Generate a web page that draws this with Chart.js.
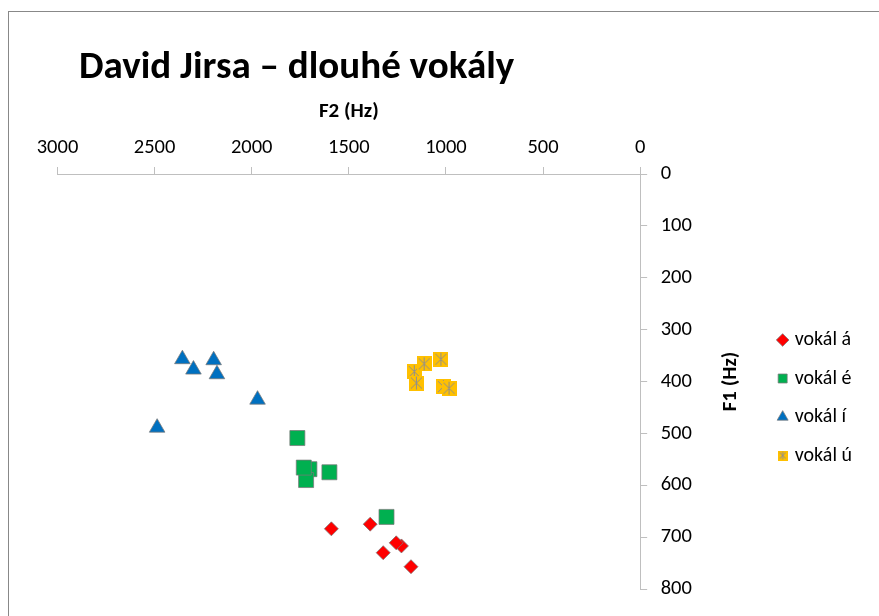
<!DOCTYPE html>
<html>
<head>
<meta charset="utf-8">
<title>David Jirsa – dlouhé vokály</title>
<script src="https://cdn.jsdelivr.net/npm/chart.js@4.4.1/dist/chart.umd.min.js"></script>
<style>
    html, body { margin: 0; padding: 0; overflow: hidden; background: #fff; }
    .frame { position: absolute; left: 8px; top: 11px; width: 950px; height: 700px; border: 1px solid #888; }
    .wrap { position: absolute; left: 0; top: 0; width: 879px; height: 616px; }
</style>
</head>
<body>
<div class="frame"></div>
<div class="wrap"><canvas id="vokaly" width="879" height="616"></canvas></div>
<script>
// hodnoty (F2 = osa x, F1 = osa y)
const chartTitle = 'David Jirsa – dlouhé vokály'
const f2Label = 'F2 (Hz)'
const f1Label = 'F1 (Hz)'
const seriesNames = ['vokál á', 'vokál é', 'vokál í', 'vokál ú']

const f2A = [1590, 1390, 1229, 1256, 1323, 1180]
const f1A = [684, 675, 717, 711, 730, 757]

const f2E = [1765, 1703, 1720, 1732, 1600, 1306]
const f1E = [509, 569, 590, 566, 575, 661]

const f2I = [2357, 2300, 2196, 2179, 1970, 2487]
const f1I = [357, 377, 359, 386, 435, 489]

const f2U = [1163, 1112, 1026, 1152, 1013, 984]
const f1U = [381, 366, 357, 403, 410, 413]

const f2Ticks = [0, 500, 1000, 1500, 2000, 2500, 3000]
const f1Ticks = [0, 100, 200, 300, 400, 500, 600, 700, 800]

const toPoints = function (xs, ys) {
    return xs.map((x, i) => ({ x: x, y: ys[i] }))
}

// zluty ctverec s hvezdickou (marker pro u)
const starMarker = function (size) {
    const c = document.createElement('canvas')
    c.width = size
    c.height = size
    const ctx = c.getContext('2d')
    ctx.fillStyle = '#FFC000'
    ctx.fillRect(0, 0, size, size)
    ctx.strokeStyle = '#8f8f8f'
    ctx.lineWidth = 1
    ctx.beginPath()
    ctx.moveTo(2, 2); ctx.lineTo(size - 2, size - 2)
    ctx.moveTo(size - 2, 2); ctx.lineTo(2, size - 2)
    ctx.moveTo(size / 2, 1); ctx.lineTo(size / 2, size - 1)
    ctx.stroke()
    return c
}

const family = 'Calibri, Carlito, "Open Sans"'
const tickFont = { family: family, size: 20.5 }
const gray = '#BFBFBF'
const markerEdge = 'rgba(120,120,120,0.75)'

const titleShift = {
    id: 'titleShift',
    afterLayout(chart) {
        chart.titleBlock.left = 79
    }
}

// popisek osy F1 je otoceny zdola nahoru
const f1Title = {
    id: 'f1Title',
    afterDraw(chart) {
        const s = chart.scales.y
        const ctx = chart.ctx
        ctx.save()
        ctx.translate(s.right - 31.8, (s.top + s.bottom) / 2)
        ctx.rotate(-Math.PI / 2)
        ctx.font = 'bold 21px ' + family
        ctx.fillStyle = '#000'
        ctx.textAlign = 'center'
        ctx.textBaseline = 'middle'
        ctx.fillText(f1Label, 0, 0)
        ctx.restore()
    }
}

const ctx = document.getElementById('vokaly')
new Chart(ctx, {
    type: 'scatter',
    data: {
        datasets: [{
            label: seriesNames[0],
            data: toPoints(f2A, f1A),
            pointStyle: 'rectRot',
            pointRadius: 7,
            backgroundColor: '#FF0000',
            borderColor: markerEdge,
            borderWidth: 1
        }, {
            label: seriesNames[1],
            data: toPoints(f2E, f1E),
            pointStyle: 'rect',
            pointRadius: 10.6,
            backgroundColor: '#00B050',
            borderColor: markerEdge,
            borderWidth: 1
        }, {
            label: seriesNames[2],
            data: toPoints(f2I, f1I),
            pointStyle: 'triangle',
            pointRadius: 9,
            backgroundColor: '#0070C0',
            borderColor: markerEdge,
            borderWidth: 1
        }, {
            label: seriesNames[3],
            data: toPoints(f2U, f1U),
            pointStyle: starMarker(15),
            backgroundColor: '#FFC000',
            borderColor: markerEdge,
            borderWidth: 1
        }]
    },
    options: {
        responsive: false,
        animation: false,
        layout: {
            padding: { left: 57.5, right: 17, top: 20, bottom: 27 }
        },
        scales: {
            x: {
                type: 'linear',
                position: 'top',
                reverse: true,
                min: f2Ticks[0],
                max: f2Ticks[f2Ticks.length - 1],
                afterBuildTicks: (scale) => { scale.ticks = f2Ticks.map(v => ({ value: v })) },
                afterFit: (scale) => { scale.height = 75.1 },
                grid: { drawOnChartArea: false, tickLength: 7, color: gray },
                border: { color: gray },
                ticks: { font: tickFont, color: '#000', padding: 7.2, maxRotation: 0, callback: (v) => String(v) },
                title: {
                    display: true,
                    text: f2Label,
                    color: '#000',
                    font: { family: family, size: 21, weight: 'bold' },
                    padding: { top: 0, bottom: 0 }
                }
            },
            y: {
                type: 'linear',
                position: 'right',
                reverse: true,
                min: f1Ticks[0],
                max: f1Ticks[f1Ticks.length - 1],
                afterBuildTicks: (scale) => { scale.ticks = f1Ticks.map(v => ({ value: v })) },
                afterFit: (scale) => { scale.width = 122 },
                grid: { drawOnChartArea: false, tickLength: 7, color: gray },
                border: { color: gray },
                ticks: { font: tickFont, color: '#000', padding: 13.5, callback: (v) => String(v) }
            }
        },
        plugins: {
            title: {
                display: true,
                text: chartTitle,
                align: 'start',
                color: '#000',
                font: { family: family, size: 39, weight: 'bold', lineHeight: 1.2 },
                padding: { top: 25.2, bottom: 6.9 }
            },
            legend: {
                position: 'right',
                fullSize: false,
                title: { display: true, text: '', font: { size: 12, lineHeight: 1 }, padding: { top: 20.5, bottom: 0 } },
                labels: {
                    usePointStyle: true,
                    boxWidth: 4,
                    boxHeight: 9,
                    padding: 18.5,
                    color: '#000',
                    font: { family: family, size: 20 },
                    generateLabels: function (chart) {
                        const items = Chart.defaults.plugins.legend.labels.generateLabels(chart)
                        items[3].pointStyle = starMarker(10)
                        return items
                    }
                }
            },
            tooltip: { enabled: false }
        }
    },
    plugins: [titleShift, f1Title]
})
</script>
</body>
</html>
